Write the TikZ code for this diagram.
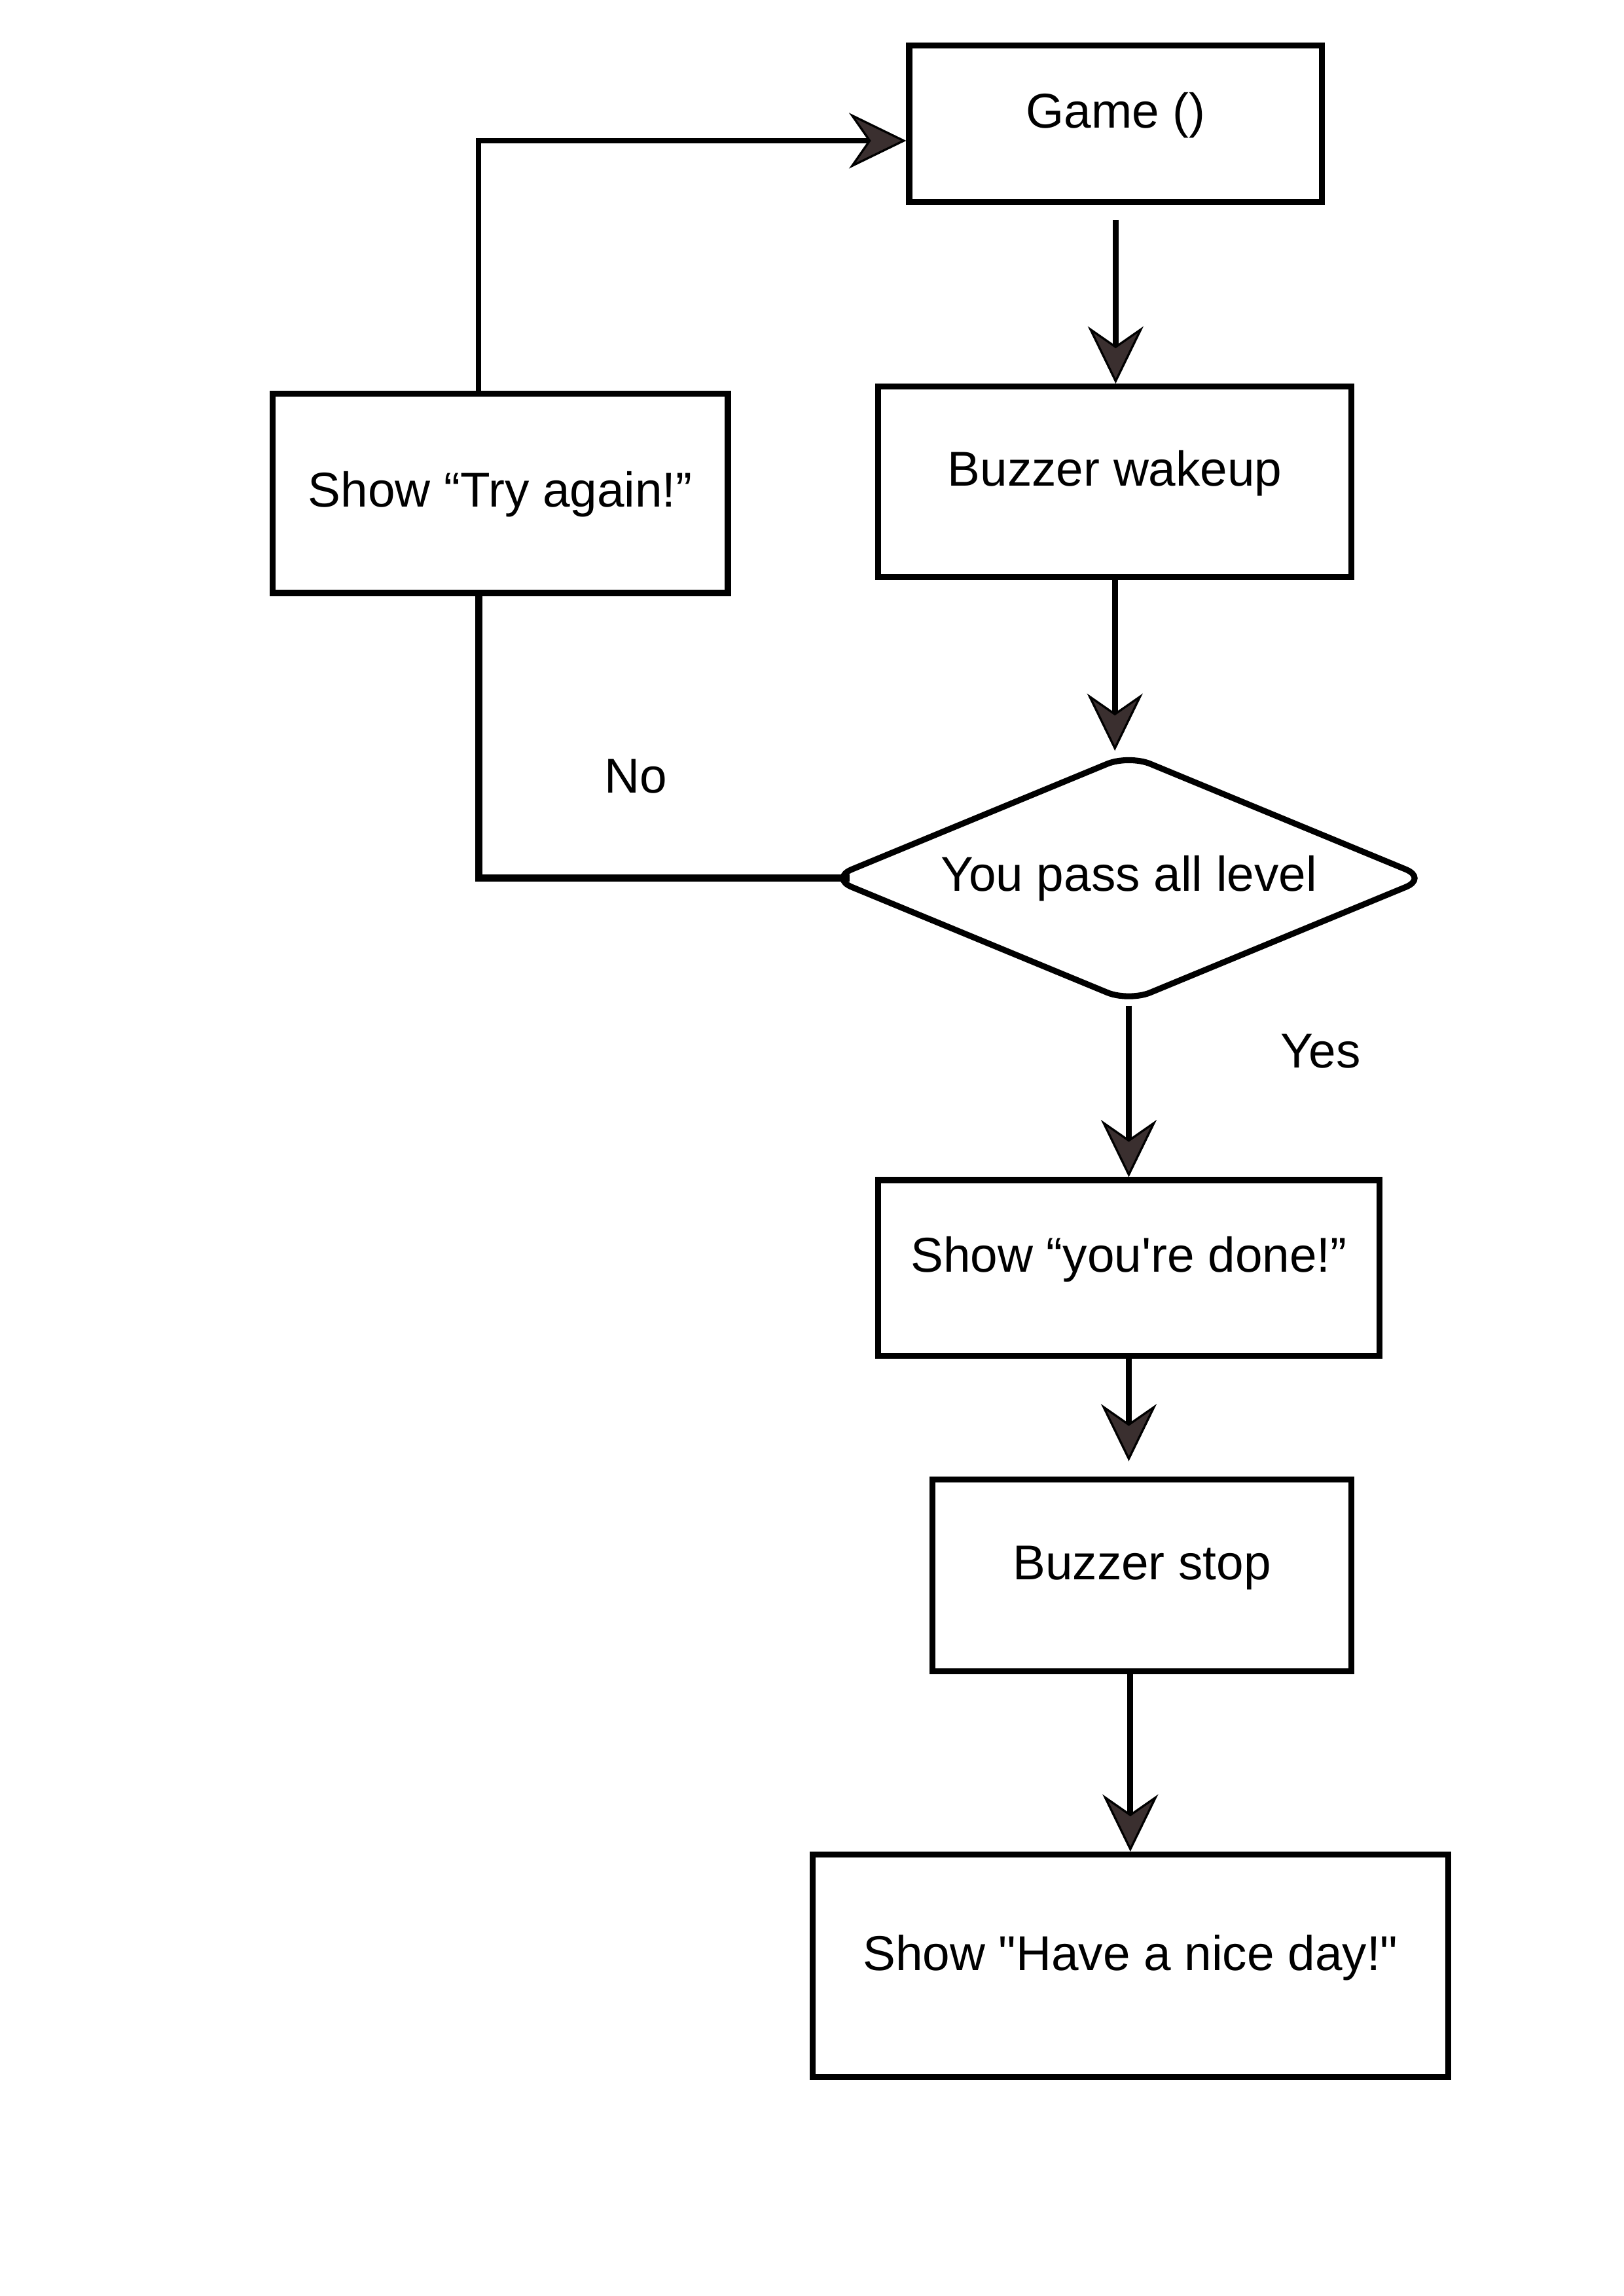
\documentclass[tikz,border=0pt]{standalone}
\usepackage{fontspec}
\setmainfont{Liberation Sans}[Ligatures=TeXOff]
\usepackage{tikz}
\usetikzlibrary{shapes.geometric, arrows.meta, positioning, calc}
\definecolor{grisFlecha}{RGB}{58,47,47}

\begin{document}
\begin{tikzpicture}[
  font=\fontsize{18}{22}\selectfont,
  caja/.style={draw, line width=2.2pt, text height=0.45cm, text depth=0.34cm},
  decision/.style={draw, diamond, line width=2.2pt, rounded corners=0.3cm,
    inner sep=0pt, shape aspect=2.4},
  enlace/.style={line width=2.6pt},
  flecha/.style={line width=2.1pt,
    -{Stealth[length=0.74cm, width=0.72cm, inset=0.25cm, color=black, fill=grisFlecha, line width=0.8pt]}}
]
  \useasboundingbox (0,0) rectangle (21,-29.7);

  % Cajas del flujo principal
  \node[caja, minimum width=5.34cm, minimum height=2.03cm] (game) at (14.43,-1.60) {Game ()};
  \node[caja, minimum width=6.12cm, minimum height=2.46cm] (wake) at (14.42,-6.23) {Buzzer wakeup};
  \node[decision, minimum width=7.75cm, minimum height=3.22cm] (dec) at (14.60,-11.36) {You pass all level};
  \node[caja, minimum width=6.48cm, minimum height=2.27cm] (done) at (14.60,-16.40) {Show “you're done!”};
  \node[caja, minimum width=5.42cm, minimum height=2.48cm] (stop) at (14.77,-20.38) {Buzzer stop};
  \node[caja, minimum width=8.22cm, minimum height=2.88cm] (nice) at (14.62,-25.43) {Show "Have a nice day!"};

  % Rama de repetir
  \node[caja, minimum width=5.89cm, minimum height=2.58cm, text depth=0.1cm] (try) at (6.47,-6.38) {Show “Try again!”};
  \coordinate (entrada) at ($(game.west)+(0,-0.22)$);

  % Etiquetas
  \node (yes) at (17.08,-13.60) {Yes};
  \node (no) at (8.22,-10.04) {No};

  % Flechas
  \draw[flecha, shorten <=0.19cm] (game.south) -- (game.south |- wake.north);
  \draw[flecha] (wake.south) -- (wake.south |- dec.north);
  \draw[flecha] (dec.south) -- (done.north);
  \draw[flecha, shorten >=0.2cm] (done.south) -- (done.south |- stop.north);
  \draw[flecha] (stop.south -| nice.north) -- (nice.north);

  % Lazo de vuelta
  \draw[enlace, shorten <=-0.3cm] (dec.west) -| ([xshift=-0.28cm]try.south);
  \draw[flecha] ([xshift=-0.28cm]try.north) |- (entrada);
\end{tikzpicture}
\end{document}
